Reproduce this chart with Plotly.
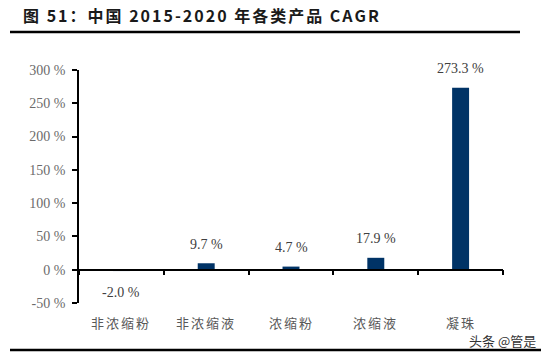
import plotly.graph_objects as go

categories = ["非浓缩粉", "非浓缩液", "浓缩粉", "浓缩液", "凝珠"]
cagr = [-2.0, 9.7, 4.7, 17.9, 273.3]
y_ticks = [-50, 0, 50, 100, 150, 200, 250, 300]
y_tick_text = [f"{v} %" for v in y_ticks]
title_text = "图 51：中国 2015-2020 年各类产品 CAGR"
watermark = "头条 @管是"

W, H = 548, 355
ML, MR, MT, MB = 79, 45, 70, 52
num_font = "Liberation Serif, Noto Sans CJK SC, serif"
cjk_font = "Noto Sans CJK SC"

fig = go.Figure()
fig.add_trace(go.Bar(
    x=categories, y=cagr, width=0.2,
    marker=dict(color="#003366", line=dict(width=0)),
    hoverinfo="skip",
))

pw, ph = W - ML - MR, H - MT - MB
def px_x(px):
    return (px - ML) / pw
def px_y(py):
    return (H - MB - py) / ph

ann = []
for c, v in zip(categories, cagr):
    ann.append(dict(
        x=c, y=v, xref="x", yref="y", text=f"{v:.1f} %", showarrow=False,
        yshift=19 if v >= 0 else -21, yanchor="middle",
        font=dict(family=num_font, size=14, color="#404040"),
    ))
    ann.append(dict(
        x=c, y=-50, xref="x", yref="y",
        text=f'<span style="letter-spacing:2px">{c}</span>', showarrow=False,
        yshift=-19, yanchor="middle",
        font=dict(family=cjk_font, size=13, color="#595959"),
    ))

ann.append(dict(
    x=px_x(21), y=px_y(15), xref="paper", yref="paper", xanchor="left", yanchor="middle",
    text='<b><span style="letter-spacing:2px">' + title_text + "</span></b>", showarrow=False,
    font=dict(family=cjk_font, size=16, color="#1a1a1a"),
))
ann.append(dict(
    x=px_x(538), y=px_y(340), xref="paper", yref="paper", xanchor="right", yanchor="middle",
    text=watermark, showarrow=False,
    font=dict(family=cjk_font, size=13, color="#333333"),
))

shapes = [
    dict(type="line", xref="paper", yref="paper", x0=px_x(10), x1=px_x(520),
         y0=px_y(32), y1=px_y(32), line=dict(color="black", width=2.5)),
    dict(type="line", xref="paper", yref="paper", x0=px_x(10), x1=px_x(541),
         y0=px_y(350), y1=px_y(350), line=dict(color="black", width=2.5)),
]

fig.update_layout(
    width=W, height=H,
    margin=dict(l=ML, r=MR, t=MT, b=MB, pad=0),
    paper_bgcolor="white", plot_bgcolor="white",
    showlegend=False,
    annotations=ann,
    shapes=shapes,
    xaxis=dict(
        type="category", categoryorder="array", categoryarray=categories,
        anchor="free", position=50 / 350,
        showline=True, linecolor="black", linewidth=1.5,
        ticks="outside", tickson="boundaries", ticklen=5, tickwidth=1.5, tickcolor="black",
        showticklabels=False, showgrid=False, zeroline=False,
        range=[-0.5, 4.5],
    ),
    yaxis=dict(
        range=[-50, 300], tickvals=y_ticks, ticktext=y_tick_text,
        showline=True, linecolor="black", linewidth=1.5,
        ticks="outside", ticklen=5, tickwidth=1.5, tickcolor="black",
        showgrid=False, zeroline=False,
        tickfont=dict(family=num_font, size=14, color="#6b6b6b"),
        ticklabelstandoff=4,
    ),
)

fig.write_html(
    "out.html",
    config={"displayModeBar": False},
    post_script="document.body.style.margin='0';document.body.style.overflow='hidden';",
)
